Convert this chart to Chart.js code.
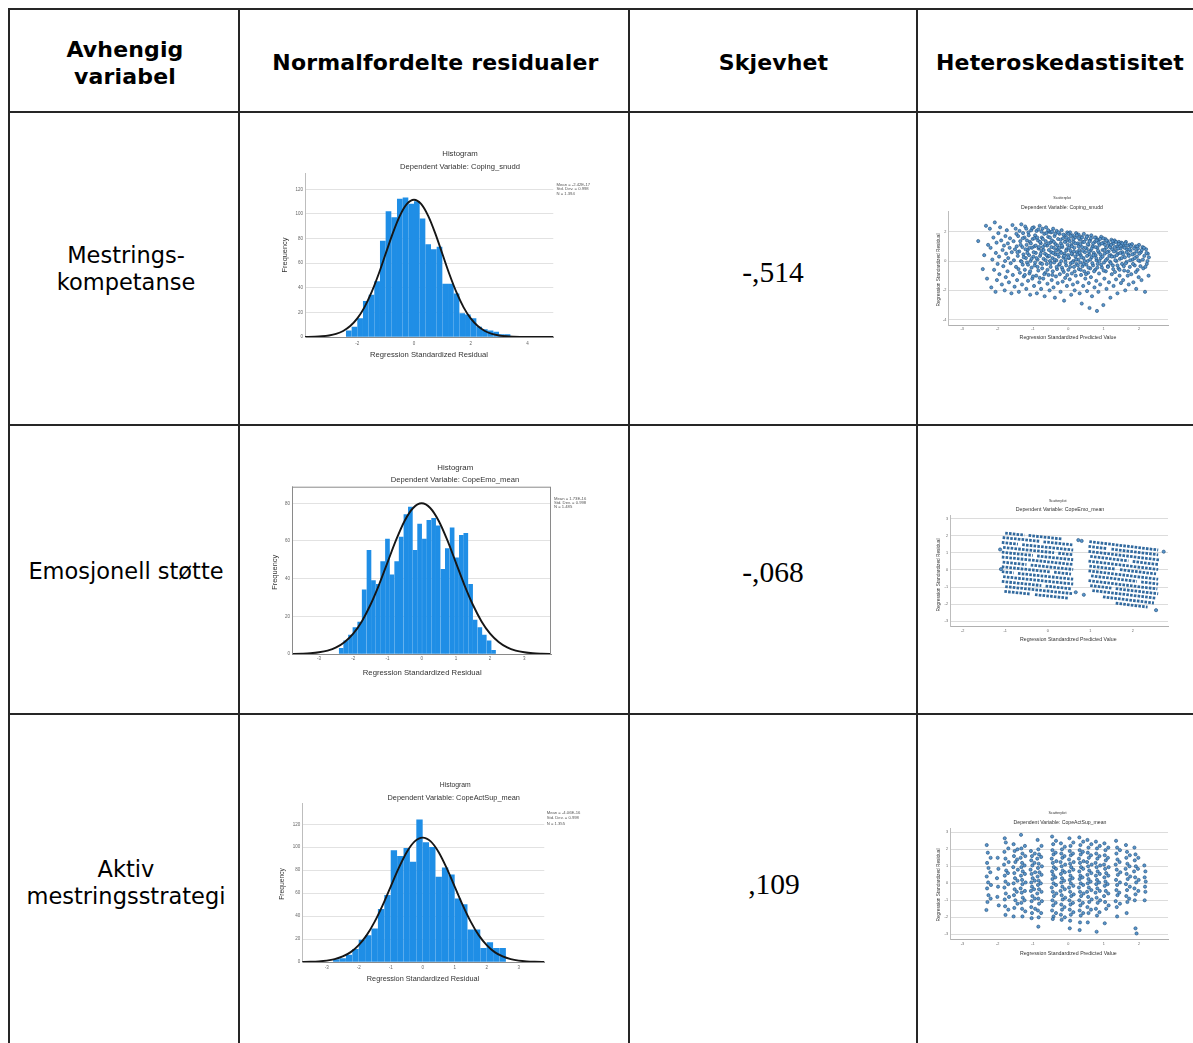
<!DOCTYPE html>
<html>
<head>
<meta charset="utf-8">
<script src="https://cdn.jsdelivr.net/npm/chart.js@4.4.1/dist/chart.umd.min.js"></script>
<style>
  html, body { margin: 0; padding: 0; background: #fff; }
  #page { position: relative; width: 1193px; height: 1043px; overflow: hidden; background: #fff; }
  .ln { position: absolute; background: #262626; }
  .txt { position: absolute; width: 400px; text-align: center; white-space: nowrap; color: #000; }
  .hd { font-family: "DejaVu Sans"; font-weight: bold; font-size: 22px; line-height: 27px; letter-spacing: 0.15px; }
  .bd { font-family: "DejaVu Sans"; font-size: 22.5px; line-height: 27px; }
  .num { font-family: "Liberation Serif"; font-size: 29.5px; line-height: 34px; }
  canvas { position: absolute; }
</style>
</head>
<body>
<div id="page">
  <!-- table rules -->
  <div class="ln" style="left:8px;top:8px;width:1185px;height:2px"></div>
  <div class="ln" style="left:8px;top:111px;width:1185px;height:2px"></div>
  <div class="ln" style="left:8px;top:424px;width:1185px;height:2px"></div>
  <div class="ln" style="left:8px;top:713px;width:1185px;height:2px"></div>
  <div class="ln" style="left:8px;top:8px;width:2px;height:1035px"></div>
  <div class="ln" style="left:238px;top:8px;width:2px;height:1035px"></div>
  <div class="ln" style="left:628px;top:8px;width:2px;height:1035px"></div>
  <div class="ln" style="left:916px;top:8px;width:2px;height:1035px"></div>

  <!-- header -->
  <div class="txt hd" style="left:-75px;top:36px">Avhengig<br>variabel</div>
  <div class="txt hd" style="left:235.5px;top:49px">Normalfordelte residualer</div>
  <div class="txt hd" style="left:573.5px;top:49px">Skjevhet</div>
  <div class="txt hd" style="left:860px;top:49px">Heteroskedastisitet</div>

  <!-- first column -->
  <div class="txt bd" style="left:-74px;top:242px">Mestrings-<br>kompetanse</div>
  <div class="txt bd" style="left:-74px;top:558px">Emosjonell støtte</div>
  <div class="txt bd" style="left:-74px;top:856px">Aktiv<br>mestringsstrategi</div>

  <!-- skewness -->
  <div class="txt num" style="left:573px;top:255px">-,514</div>
  <div class="txt num" style="left:573px;top:555px">-,068</div>
  <div class="txt num" style="left:574px;top:867px">,109</div>

  <canvas id="hist1"></canvas>
  <canvas id="hist2"></canvas>
  <canvas id="hist3"></canvas>
  <canvas id="scat1"></canvas>
  <canvas id="scat2"></canvas>
  <canvas id="scat3"></canvas>
</div>

<script>
// ---- histogram data (bin centres, counts, fitted normal curve) ----
const hist1Bins = [-2.3,-2.1,-1.9,-1.7,-1.5,-1.3,-1.1,-0.9,-0.7,-0.5,-0.3,-0.1,0.1,0.3,0.5,0.7,0.9,1.1,1.3,1.5,1.7,1.9,2.1,2.3,2.5,2.7,2.9,3.1,3.3];
const hist1Counts = [5,8,15,29,34,45,78,102,97,112,113,108,110,96,75,71,73,43,43,35,19,18,15,8,6,5,4,2,2];

const hist2Bins = [-2.35,-2.22,-2.08,-1.95,-1.81,-1.68,-1.54,-1.41,-1.27,-1.14,-1.00,-0.87,-0.73,-0.60,-0.46,-0.33,-0.19,-0.06,0.08,0.21,0.35,0.48,0.62,0.75,0.89,1.02,1.16,1.29,1.43,1.56,1.70,1.83,1.97,2.10];
const hist2Counts = [3,7,10,14,17,34,55,39,37,49,61,42,49,62,74,78,55,69,61,71,72,68,45,56,67,51,63,64,37,18,14,10,7,2];

const hist3Bins = [-2.7,-2.5,-2.3,-2.1,-1.9,-1.7,-1.5,-1.3,-1.1,-0.9,-0.7,-0.5,-0.3,-0.1,0.1,0.3,0.5,0.7,0.9,1.1,1.3,1.5,1.7,1.9,2.1,2.3,2.5];
const hist3Counts = [2,3,6,11,19,23,29,46,58,97,92,99,87,124,104,100,74,82,76,55,50,28,28,12,17,12,12];

const curveX = [-4,-3.75,-3.5,-3.25,-3,-2.75,-2.5,-2.25,-2,-1.75,-1.5,-1.25,-1,-0.75,-0.5,-0.25,0,0.25,0.5,0.75,1,1.25,1.5,1.75,2,2.25,2.5,2.75,3,3.25,3.5,3.75,4,4.25,4.5,4.75,5];
const hist1Curve = [0.03,0.1,0.25,0.57,1.24,2.54,4.9,8.88,15.1,24.1,36.2,51.0,67.6,84.2,98.4,108.1,111.5,108.1,98.4,84.2,67.6,51.0,36.2,24.1,15.1,8.88,4.9,2.54,1.24,0.57,0.25,0.1,0.03,0,0,0,0];
const hist2Curve = [0.03,0.07,0.18,0.4,0.9,1.8,3.5,6.4,10.8,17.3,26.0,36.6,48.5,60.4,70.6,77.5,80,77.5,70.6,60.4,48.5,36.6,26.0,17.3,10.8,6.4,3.5,1.8,0.9,0.4,0.18,0.07,0.03,0,0,0,0];
const hist3Curve = [0.03,0.1,0.24,0.55,1.2,2.5,4.8,8.6,14.7,23.4,35.2,49.6,65.7,81.8,95.7,105.1,108.4,105.1,95.7,81.8,65.7,49.6,35.2,23.4,14.7,8.6,4.8,2.5,1.2,0.55,0.24,0.1,0.03,0,0,0,0];

const hist1XTicks = [-2,0,2,4];
const hist23XTicks = [-3,-2,-1,0,1,2,3];
const hist13YTicks = [0,20,40,60,80,100,120];
const hist2YTicks = [0,20,40,60,80];

const hist1Stats = ['Mean = -2.42E-17', 'Std. Dev. = 0.998', 'N = 1.394'];
const hist2Stats = ['Mean = 1.73E-16', 'Std. Dev. = 0.998', 'N = 1.485'];
const hist3Stats = ['Mean = -4.06E-16', 'Std. Dev. = 0.998', 'N = 1.355'];

// ---- scatterplot data (standardized predicted, standardized residual) ----
const scatter1Points = [
  [-2.55,1.36],[-2.42,-0.55],[-2.38,0.4],[-2.33,2.4],[-2.3,-1.2],[-2.27,1.1],
  [-2.22,2.2],[-2.2,0.9],[-2.18,-1.8],[-2.15,0.1],[-2.12,1.6],[-2.1,-0.6],[-2.08,2.63],[-2.06,-2.1],[-2.05,0.55],[-2.03,1.25],[-2.02,-1.3],[-2.0,-0.2],
  [-1.98,1.9],[-1.96,0.3],[-1.95,-0.9],[-1.93,2.3],[-1.9,1.4],[-1.88,-1.6],[-1.86,0.75],[-1.84,-0.35],[-1.82,1.05],[-1.8,-2.0],[-1.79,0.0],[-1.78,1.7],[-1.77,-1.1],[-1.76,0.5],
  [-1.74,2.1],[-1.72,-0.7],[-1.71,1.2],[-1.7,0.2],[-1.68,-1.45],[-1.66,0.9],[-1.65,1.55],[-1.63,-0.15],[-1.61,-2.2],[-1.6,0.6],[-1.58,2.45],[-1.57,-0.95],[-1.55,1.35],[-1.54,0.05],[-1.52,-1.75],[-1.51,0.8],
  [-1.49,2.2],[-1.48,-0.4],[-1.46,1.0],[-1.45,-1.3],[-1.43,0.35],[-1.42,1.7],[-1.4,-2.1],[-1.39,0.65],[-1.37,-0.8],[-1.36,1.35],[-1.34,0.0],[-1.33,2.5],[-1.31,-1.6],[-1.3,0.95],[-1.29,-0.25],[-1.28,1.9],[-1.27,0.45],[-1.26,-1.05],
  [-1.24,1.6],[-1.23,-0.6],[-1.22,2.35],[-1.2,0.2],[-1.19,-1.9],[-1.18,1.1],[-1.17,-0.1],[-1.15,0.75],[-1.14,-1.35],[-1.13,1.95],[-1.11,0.4],[-1.1,-0.85],[-1.09,1.3],[-1.08,-2.3],[-1.07,0.0],[-1.05,2.1],[-1.04,-0.45],[-1.03,0.9],[-1.02,-1.2],[-1.01,1.5],
  [-0.99,0.3],[-0.98,2.3],[-0.97,-1.7],[-0.96,1.0],[-0.95,-0.3],[-0.94,1.75],[-0.92,0.55],[-0.91,-1.0],[-0.9,2.05],[-0.89,-2.2],[-0.87,0.1],[-0.86,1.4],[-0.85,-0.65],[-0.84,0.85],[-0.82,-1.45],[-0.81,2.4],[-0.8,0.35],[-0.79,-0.15],[-0.78,1.2],[-0.77,-1.9],[-0.76,0.7],[-0.75,1.6],
  [-0.74,-0.5],[-0.73,2.2],[-0.72,0.95],[-0.71,-1.2],[-0.7,0.15],[-0.68,1.85],[-0.67,-2.4],[-0.66,0.5],[-0.65,-0.8],[-0.64,1.35],[-0.63,2.3],[-0.61,-0.2],[-0.6,1.05],[-0.59,-1.55],[-0.58,0.3],[-0.57,1.65],[-0.56,-0.95],[-0.55,0.75],[-0.54,2.0],[-0.53,-2.0],[-0.52,0.0],[-0.51,1.25],
  [-0.5,-0.4],[-0.49,1.95],[-0.48,0.6],[-0.47,-1.3],[-0.46,1.4],[-0.45,0.2],[-0.44,-0.7],[-0.43,2.2],[-0.42,-1.8],[-0.41,0.9],[-0.4,-0.1],[-0.39,1.7],[-0.38,-2.5],[-0.37,0.45],[-0.36,1.15],[-0.35,-1.05],[-0.34,0.05],[-0.33,2.05],[-0.32,-0.55],[-0.31,0.8],[-0.3,-1.5],[-0.29,1.5],[-0.27,0.3],[-0.26,-0.25],
  [-0.25,1.85],[-0.24,-0.9],[-0.23,0.65],[-0.22,-2.1],[-0.21,1.2],[-0.2,0.0],[-0.19,2.1],[-0.18,-0.45],[-0.17,0.95],[-0.16,-1.4],[-0.15,1.55],[-0.14,0.25],[-0.13,-0.75],[-0.12,-2.7],[-0.11,0.5],[-0.1,1.75],[-0.09,-1.15],[-0.08,0.1],[-0.07,1.35],[-0.06,-0.3],[-0.05,0.8],[-0.04,-1.7],[-0.03,1.95],[-0.01,0.4],
  [0.0,-0.6],[0.01,1.5],[0.02,0.2],[0.04,-1.25],[0.05,1.95],[0.06,0.7],[0.07,-0.15],[0.08,-2.3],[0.09,1.1],[0.1,-0.85],[0.11,0.45],[0.12,1.75],[0.13,-1.6],[0.14,0.0],[0.15,1.3],[0.16,-0.4],[0.17,0.9],[0.18,-2.0],[0.19,1.6],[0.2,0.3],[0.21,-1.0],[0.22,1.9],[0.23,-0.2],[0.24,0.6],
  [0.26,-1.45],[0.27,1.2],[0.28,0.1],[0.29,1.8],[0.3,-0.55],[0.31,0.75],[0.32,-2.2],[0.33,1.45],[0.34,-0.1],[0.35,0.4],[0.36,-0.95],[0.37,1.65],[0.38,-2.9],[0.39,0.95],[0.4,-0.35],[0.41,1.3],[0.42,-1.7],[0.43,0.2],[0.44,1.85],[0.45,-0.7],[0.47,0.6],[0.48,-1.2],
  [0.5,1.5],[0.51,-0.25],[0.52,0.85],[0.53,-2.05],[0.54,1.7],[0.55,0.0],[0.56,-0.8],[0.57,1.1],[0.58,-1.5],[0.59,0.45],[0.6,-3.2],[0.61,1.4],[0.62,-0.5],[0.63,0.7],[0.64,-1.1],[0.65,1.75],[0.66,0.25],[0.67,-2.4],[0.69,1.0],[0.7,-0.3],[0.72,0.55],[0.74,-1.8],
  [0.75,1.3],[0.76,-0.6],[0.77,0.4],[0.78,1.6],[0.79,-1.35],[0.8,0.05],[0.81,-3.4],[0.82,0.9],[0.83,-0.2],[0.84,1.45],[0.85,-2.1],[0.86,0.6],[0.87,-0.85],[0.88,1.1],[0.9,-1.6],[0.92,0.2],[0.93,1.65],[0.95,-0.45],[0.97,0.75],[0.99,-3.0],
  [1.0,1.25],[1.01,-0.1],[1.02,-1.2],[1.03,0.5],[1.05,1.5],[1.06,-0.7],[1.07,0.9],[1.08,-1.9],[1.1,0.15],[1.11,1.35],[1.12,-0.35],[1.14,0.65],[1.15,-1.45],[1.16,1.05],[1.18,-0.05],[1.19,-2.5],[1.2,0.4],[1.22,1.45],[1.23,-0.9],[1.24,0.8],
  [1.26,-0.3],[1.27,1.2],[1.28,-1.7],[1.3,0.3],[1.31,1.4],[1.32,-0.75],[1.34,0.7],[1.35,-1.25],[1.36,0.0],[1.38,1.0],[1.39,-2.2],[1.4,0.5],[1.42,-0.5],[1.43,1.3],[1.45,-1.0],[1.46,0.15],[1.48,0.85],[1.49,-1.5],
  [1.5,1.25],[1.52,-0.2],[1.53,0.6],[1.55,-1.3],[1.56,1.0],[1.58,-0.65],[1.6,0.25],[1.61,-2.0],[1.63,1.3],[1.65,-0.05],[1.66,0.8],[1.68,-1.0],[1.7,0.45],[1.71,-1.6],[1.73,1.1],[1.74,-0.4],
  [1.76,0.7],[1.78,-0.9],[1.8,1.15],[1.82,0.1],[1.84,-1.45],[1.86,0.5],[1.88,-0.3],[1.9,1.0],[1.92,-1.9],[1.94,0.3],[1.96,-0.6],[1.97,0.85],[1.99,-1.1],[2.0,1.1],
  [2.02,0.0],[2.05,0.6],[2.07,-1.3],[2.1,0.95],[2.12,-0.5],[2.15,0.35],[2.17,-2.1],[2.2,0.8],[2.22,-0.2],[2.25,0.5],[2.27,-1.0],[2.28,0.25]
];
// the dense core of the Coping_snudd cloud
const scatter1CorePoints = [
  [-1.47,1.85],[-1.44,0.6],[-1.41,-0.55],[-1.38,2.05],[-1.35,1.1],[-1.32,-0.05],[-1.29,1.55],[-1.26,0.25],[-1.23,-0.95],[-1.21,0.8],
  [-1.19,2.2],[-1.17,1.4],[-1.16,0.55],[-1.14,-0.25],[-1.12,1.75],[-1.1,0.9],[-1.08,-0.7],[-1.06,1.2],[-1.04,0.15],[-1.02,2.25],[-1.0,-1.05],[-0.98,0.6],[-0.96,1.55],[-0.94,-0.1],[-0.92,1.05],
  [-0.9,0.2],[-0.88,1.6],[-0.87,-0.4],[-0.85,2.15],[-0.83,0.95],[-0.81,-1.15],[-0.8,1.3],[-0.78,0.5],[-0.76,2.0],[-0.74,-0.2],[-0.72,1.5],[-0.7,0.75],[-0.68,-0.9],[-0.66,1.1],[-0.64,0.05],[-0.62,1.9],[-0.61,0.4],
  [-0.59,-0.6],[-0.57,2.1],[-0.56,1.2],[-0.54,0.35],[-0.52,1.6],[-0.5,-0.15],[-0.48,0.95],[-0.46,2.0],[-0.45,-0.95],[-0.43,0.55],[-0.41,1.3],[-0.39,0.1],[-0.37,1.85],[-0.35,0.7],[-0.33,-0.4],[-0.31,1.05],[-0.3,0.45],
  [-0.28,1.95],[-0.26,0.9],[-0.24,-0.2],[-0.22,1.45],[-0.2,0.55],[-0.18,1.05],[-0.16,-0.6],[-0.14,1.8],[-0.12,0.35],[-0.1,1.3],[-0.08,-0.1],[-0.06,0.7],[-0.05,1.6],[-0.03,-0.95],[-0.02,1.1],[0.0,0.25],[0.0,1.85],
  [0.02,0.9],[0.04,1.35],[0.05,-0.4],[0.07,1.7],[0.09,0.5],[0.1,1.0],[0.12,-0.1],[0.14,1.5],[0.16,0.65],[0.18,-0.7],[0.2,1.2],[0.22,0.1],[0.24,1.75],[0.26,0.45],[0.27,-0.3],[0.29,1.0],[0.3,1.55],
  [0.32,0.55],[0.34,1.15],[0.35,-0.6],[0.37,0.25],[0.39,1.6],[0.41,0.7],[0.43,-0.2],[0.45,1.3],[0.46,0.0],[0.48,0.9],[0.5,-0.9],[0.52,1.65],[0.53,0.35],[0.55,1.15],[0.57,-0.45],[0.58,0.65],[0.6,1.35],
  [0.62,0.1],[0.64,1.55],[0.66,0.85],[0.68,-0.15],[0.7,1.2],[0.71,0.4],[0.73,-0.7],[0.75,1.6],[0.77,0.95],[0.79,0.2],[0.8,1.4],[0.82,-0.45],[0.84,0.7],[0.86,1.25],[0.88,0.0],[0.9,1.5],
  [0.91,0.45],[0.93,-0.25],[0.95,1.2],[0.97,0.3],[0.99,1.55],[1.0,-0.65],[1.02,0.75],[1.04,1.1],[1.06,0.05],[1.08,1.4],[1.1,0.6],[1.12,-0.4],[1.14,1.2],[1.16,0.35],[1.18,0.95],[1.2,-0.15],
  [1.21,1.1],[1.23,0.3],[1.25,1.35],[1.27,-0.55],[1.29,0.65],[1.31,0.95],[1.33,0.05],[1.35,1.3],[1.37,0.4],[1.39,-0.3],[1.41,0.85],[1.43,1.15],[1.45,-0.6],[1.47,0.55],[1.49,1.05],
  [1.51,0.2],[1.53,1.2],[1.55,0.45],[1.57,-0.35],[1.59,0.9],[1.61,1.2],[1.63,-0.15],[1.65,0.6],[1.67,1.05],[1.69,-0.7],[1.71,0.35],[1.73,0.8],[1.75,0.05],[1.77,1.0],
  [1.81,0.45],[1.83,-0.2],[1.86,0.85],[1.88,0.2],[1.91,-0.75],[1.93,0.65],[1.95,1.0],[1.98,0.05],[2.01,0.5],[2.04,-0.35],[2.08,0.75],[2.11,0.1],[2.14,0.9],[2.18,-0.4],[2.21,0.55],[2.24,0.0]
];

// CopeEmo: residuals fall on sloping rows; each row run is [x0, y0, x1, y1]
const scatter2Rows = [
  [-1.0,2.16,-0.55,2.04],[-0.45,2.02,0.35,1.81],
  [-1.06,1.90,-0.2,1.68],[-0.1,1.65,0.58,1.47],
  [-1.08,1.61,-0.7,1.51],[-0.6,1.48,0.6,1.17],
  [-1.05,1.32,0.15,1.01],[0.25,0.98,0.6,0.89],
  [-1.08,1.04,-0.35,0.85],[-0.25,0.82,0.6,0.60],
  [-1.08,0.76,0.6,0.32],
  [-1.06,0.46,-0.5,0.32],[-0.4,0.29,0.6,0.03],
  [-1.08,0.19,0.05,-0.11],[0.15,-0.13,0.55,-0.24],
  [-1.08,-0.10,-0.8,-0.17],[-0.7,-0.20,0.6,-0.54],
  [-1.05,-0.39,0.6,-0.82],
  [-1.08,-0.67,-0.15,-0.91],[-0.05,-0.94,0.55,-1.10],
  [-1.0,-0.97,0.6,-1.39],
  [-1.02,-1.25,-0.4,-1.41],[-0.3,-1.44,0.5,-1.65],
  [0.98,1.66,2.6,1.17],
  [0.96,1.38,1.4,1.25],[1.5,1.22,2.6,0.89],
  [0.96,1.09,2.62,0.59],
  [1.0,0.80,1.9,0.53],[2.0,0.50,2.6,0.32],
  [0.96,0.52,2.6,0.03],
  [0.98,0.23,1.6,0.05],[1.7,0.02,2.55,-0.23],
  [0.96,-0.05,2.6,-0.54],
  [1.02,-0.34,2.1,-0.67],[2.2,-0.70,2.6,-0.82],
  [0.96,-0.62,2.58,-1.11],
  [1.0,-0.91,1.5,-1.06],[1.6,-1.09,2.6,-1.39],
  [1.05,-1.20,2.55,-1.65],
  [1.3,-1.57,2.5,-1.93],
  [1.6,-1.94,2.35,-2.17]
];
const scatter2Points = [[0.8,1.7],[0.72,1.75],[2.73,1.07],[0.66,-1.3],[0.85,-1.45],[2.55,-2.35],[-1.12,1.2],[-1.1,0.05]];

const scatter3Points = [
  [-2.31,2.25],[-2.28,1.8],[-2.3,1.2],[-2.26,0.9],[-2.31,0.4],[-2.27,0.05],[-2.3,-0.3],[-2.26,-0.7],[-2.29,-1.1],[-2.32,-1.57],
  [-2.0,1.5],[-1.98,0.85],[-2.02,0.3],[-1.99,-0.2],[-2.01,-0.8],[-1.97,-1.3],
  [-1.8,2.65],[-1.77,2.4],[-1.81,1.85],[-1.78,1.45],[-1.82,1.1],[-1.76,0.75],[-1.8,0.45],[-1.78,0.1],[-1.81,-0.25],[-1.77,-0.6],[-1.8,-0.95],[-1.79,-1.35],[-1.78,-1.86],
  [-1.55,2.3],[-1.52,1.9],[-1.54,1.6],[-1.5,1.25],[-1.56,0.95],[-1.53,0.6],[-1.51,0.3],[-1.55,0.0],[-1.52,-0.35],[-1.54,-0.7],[-1.5,-1.0],[-1.53,-1.45],[-1.55,-1.95],
  [-1.34,2.85],[-1.33,2.05],[-1.3,1.75],[-1.35,1.5],[-1.31,1.2],[-1.33,0.95],[-1.29,0.7],[-1.34,0.45],[-1.31,0.2],[-1.3,-0.05],[-1.35,-0.3],[-1.32,-0.55],[-1.29,-0.85],[-1.33,-1.15],[-1.31,-1.5],[-1.3,-1.95],
  [-1.06,1.9],[-1.03,1.6],[-1.05,1.35],[-1.02,1.05],[-1.07,0.8],[-1.04,0.55],[-1.01,0.3],[-1.05,0.05],[-1.03,-0.2],[-1.06,-0.45],[-1.02,-0.75],[-1.04,-1.05],[-1.05,-1.4],[-1.03,-1.75],[-1.04,-2.05],
  [-0.87,2.55],[-0.85,2.0],[-0.83,1.7],[-0.88,1.45],[-0.84,1.15],[-0.86,0.9],[-0.82,0.65],[-0.87,0.4],[-0.84,0.15],[-0.86,-0.1],[-0.83,-0.35],[-0.88,-0.6],[-0.85,-0.9],[-0.83,-1.2],[-0.86,-1.6],[-0.84,-2.0],[-0.85,-2.55],
  [-0.46,2.75],[-0.43,2.3],[-0.45,1.95],[-0.42,1.7],[-0.47,1.45],[-0.44,1.2],[-0.41,0.95],[-0.46,0.7],[-0.43,0.5],[-0.45,0.25],[-0.42,0.0],[-0.47,-0.25],[-0.44,-0.5],[-0.41,-0.75],[-0.45,-1.0],[-0.43,-1.3],[-0.46,-1.6],[-0.42,-1.95],[-0.44,-2.1],
  [-0.21,2.35],[-0.18,2.0],[-0.2,1.75],[-0.17,1.5],[-0.22,1.25],[-0.19,1.0],[-0.16,0.75],[-0.21,0.55],[-0.18,0.3],[-0.2,0.05],[-0.17,-0.2],[-0.22,-0.45],[-0.19,-0.7],[-0.16,-0.95],[-0.2,-1.25],[-0.18,-1.55],[-0.21,-1.85],[-0.19,-2.15],
  [0.03,2.65],[0.06,2.2],[0.04,1.9],[0.07,1.65],[0.02,1.4],[0.05,1.15],[0.08,0.95],[0.03,0.7],[0.06,0.45],[0.04,0.2],[0.07,0.0],[0.02,-0.25],[0.05,-0.5],[0.08,-0.75],[0.03,-1.0],[0.06,-1.25],[0.04,-1.55],[0.07,-1.85],[0.05,-2.2],[0.04,-2.65],
  [0.31,2.7],[0.34,2.25],[0.32,1.95],[0.35,1.7],[0.3,1.45],[0.33,1.2],[0.36,0.95],[0.31,0.7],[0.34,0.45],[0.32,0.25],[0.35,0.0],[0.3,-0.25],[0.33,-0.5],[0.36,-0.75],[0.31,-1.0],[0.34,-1.3],[0.32,-1.6],[0.35,-1.9],[0.33,-2.3],[0.32,-2.75],
  [0.54,2.55],[0.57,2.1],[0.55,1.8],[0.58,1.5],[0.53,1.25],[0.56,1.0],[0.59,0.75],[0.54,0.5],[0.57,0.25],[0.55,0.0],[0.58,-0.25],[0.53,-0.5],[0.56,-0.8],[0.59,-1.1],[0.54,-1.4],[0.57,-1.75],[0.55,-2.3],
  [0.78,2.45],[0.81,2.05],[0.79,1.75],[0.82,1.45],[0.77,1.2],[0.8,0.95],[0.83,0.7],[0.78,0.45],[0.81,0.2],[0.79,-0.05],[0.82,-0.3],[0.77,-0.55],[0.8,-0.85],[0.83,-1.15],[0.78,-1.5],[0.81,-1.9],[0.8,-2.85],
  [1.02,2.35],[1.05,1.95],[1.03,1.65],[1.06,1.35],[1.01,1.1],[1.04,0.85],[1.07,0.6],[1.02,0.35],[1.05,0.1],[1.03,-0.15],[1.06,-0.45],[1.01,-0.75],[1.04,-1.1],[1.07,-1.5],[1.03,-2.35],
  [1.35,2.5],[1.38,2.1],[1.36,1.75],[1.39,1.4],[1.34,1.1],[1.37,0.8],[1.4,0.5],[1.35,0.2],[1.38,-0.1],[1.36,-0.4],[1.39,-0.7],[1.34,-1.05],[1.37,-1.4],[1.38,-1.95],
  [1.63,2.25],[1.66,1.85],[1.64,1.5],[1.67,1.15],[1.62,0.85],[1.65,0.55],[1.68,0.25],[1.63,-0.05],[1.66,-0.4],[1.64,-0.75],[1.67,-1.1],[1.65,-1.75],
  [1.87,2.1],[1.9,1.7],[1.88,1.35],[1.91,1.0],[1.86,0.7],[1.89,0.35],[1.92,0.05],[1.87,-0.3],[1.9,-0.65],[1.88,-1.0],[1.9,-2.65],[1.93,-2.95],
  [2.15,1.05],[2.18,0.7],[2.16,0.35],[2.19,0.1],[2.17,-0.2],[2.18,-0.5],[2.16,-1.0]
];
// second, right-hand strand of each CopeActSup column
const scatter3StrandPoints = [
  [-2.2,1.5],[-2.21,0.65],[-2.19,-0.1],[-2.2,-0.9],
  [-1.7,2.05],[-1.69,1.25],[-1.71,0.6],[-1.7,-0.05],[-1.68,-0.8],[-1.7,-1.55],
  [-1.44,2.0],[-1.45,1.4],[-1.43,0.8],[-1.44,0.15],[-1.46,-0.5],[-1.44,-1.2],
  [-1.23,2.2],[-1.22,1.6],[-1.24,1.05],[-1.23,0.55],[-1.21,0.05],[-1.23,-0.45],[-1.24,-1.0],[-1.22,-1.65],
  [-0.95,1.75],[-0.96,1.2],[-0.94,0.65],[-0.95,0.15],[-0.97,-0.35],[-0.95,-0.9],[-0.94,-1.5],
  [-0.76,2.2],[-0.77,1.55],[-0.75,1.0],[-0.76,0.5],[-0.78,0.0],[-0.76,-0.5],[-0.75,-1.05],[-0.77,-1.75],
  [-0.35,2.5],[-0.36,1.8],[-0.34,1.3],[-0.35,0.85],[-0.37,0.35],[-0.35,-0.1],[-0.34,-0.6],[-0.36,-1.15],[-0.35,-1.75],
  [-0.1,2.15],[-0.11,1.6],[-0.09,1.1],[-0.1,0.65],[-0.12,0.15],[-0.1,-0.35],[-0.09,-0.85],[-0.11,-1.4],[-0.1,-2.0],
  [0.14,2.4],[0.13,1.75],[0.15,1.25],[0.14,0.8],[0.12,0.3],[0.14,-0.15],[0.15,-0.65],[0.13,-1.15],[0.14,-1.7],
  [0.42,2.45],[0.41,1.85],[0.43,1.3],[0.42,0.85],[0.4,0.35],[0.42,-0.1],[0.43,-0.6],[0.41,-1.15],[0.42,-1.75],
  [0.65,2.3],[0.64,1.65],[0.66,1.1],[0.65,0.6],[0.63,0.1],[0.65,-0.4],[0.66,-0.95],[0.64,-1.55],
  [0.89,2.2],[0.88,1.6],[0.9,1.05],[0.89,0.55],[0.87,0.05],[0.89,-0.45],[0.9,-1.0],[0.88,-1.7],
  [1.13,2.1],[1.12,1.5],[1.14,0.95],[1.13,0.45],[1.11,-0.05],[1.13,-0.6],[1.14,-1.3],
  [1.46,1.95],[1.45,1.25],[1.47,0.65],[1.46,0.05],[1.44,-0.55],[1.46,-1.2],
  [1.74,1.65],[1.73,1.0],[1.75,0.4],[1.74,-0.2],[1.72,-0.9],
  [1.98,1.5],[1.97,0.85],[1.99,0.2],[1.98,-0.45]
];

const scatter13XTicks = [-3,-2,-1,0,1,2];
const scatter2XTicks = [-2,-1,0,1,2];
const scatter1YTicks = [-4,-2,0,2];
const scatter23YTicks = [-3,-2,-1,0,1,2,3];

// ---- helpers ----
const BAR_BLUE = '#1f8ee6';
const DOT_FILL = '#5a96cc';
const DOT_EDGE = '#1d4b78';
const FONT = '"Liberation Sans", Arial, sans-serif';

// draws frame, x tick labels, titles / axis titles / stats text (page coordinates)
const panelText = {
  id: 'panelText',
  afterDraw(chart, args, opts) {
    const ctx = chart.ctx;
    const a = chart.chartArea;
    if (opts.frame) {
      ctx.save();
      ctx.strokeStyle = '#8a8a8a';
      ctx.lineWidth = 1;
      ctx.strokeRect(a.left + 0.5, a.top + 0.5, a.right - a.left - 1, a.bottom - a.top);
      ctx.restore();
    }
    if (opts.xTicks) {
      const xs = chart.scales.x;
      ctx.save();
      ctx.font = opts.tickSize + 'px ' + FONT;
      ctx.fillStyle = '#666';
      ctx.textAlign = 'center';
      ctx.textBaseline = 'middle';
      opts.xTicks.forEach(v => {
        ctx.fillText(String(v), xs.getPixelForValue(v), a.bottom + opts.xDy);
      });
      ctx.restore();
    }
    (opts.items || []).forEach(t => {
      ctx.save();
      let size = t.size || 8;
      ctx.font = size + 'px ' + FONT;
      if (t.w) {
        size = size * t.w / ctx.measureText(t.text).width;
        ctx.font = size + 'px ' + FONT;
      }
      ctx.fillStyle = t.color || '#333';
      ctx.textAlign = t.align || 'center';
      ctx.textBaseline = 'middle';
      ctx.translate(t.x - opts.ox, t.y - opts.oy);
      if (t.rot) ctx.rotate(-Math.PI / 2);
      ctx.fillText(t.text, 0, 0);
      ctx.restore();
    });
  }
};

function placeCanvas(id, box) {
  const c = document.getElementById(id);
  c.width = box.w;
  c.height = box.h;
  c.style.left = box.x + 'px';
  c.style.top = box.y + 'px';
  c.style.width = box.w + 'px';
  c.style.height = box.h + 'px';
  return c;
}

const Y_W = 12, X_H = 10;
function paddingFor(box, area) {
  return {
    left: area.l - box.x - Y_W,
    top: area.t - box.y,
    right: box.x + box.w - area.r,
    bottom: box.y + box.h - area.b - X_H
  };
}

function axes(xr, yr, yTicks, tickSize, gridColor, borderColor) {
  return {
    x: {
      type: 'linear', min: xr[0], max: xr[1], offset: false,
      grid: { display: false, offset: false },
      border: { display: true, color: borderColor, width: 1 },
      ticks: { display: false },
      afterFit: s => { s.height = X_H; s.paddingLeft = 0; s.paddingRight = 0; }
    },
    y: {
      type: 'linear', min: yr[0], max: yr[1],
      grid: { color: gridColor, lineWidth: 1, drawTicks: false },
      border: { display: true, color: '#bdbdbd', width: 1 },
      ticks: { font: { size: tickSize, family: FONT }, color: '#666', padding: 2, autoSkip: false },
      afterBuildTicks: s => { s.ticks = yTicks.map(v => ({ value: v })); },
      afterFit: s => { s.width = Y_W; s.paddingTop = 0; s.paddingBottom = 0; }
    }
  };
}

function histogram(id, box, area, xr, yr, bins, counts, curve, xTicks, yTicks, barPx, xDy, texts, frame) {
  const canvas = placeCanvas(id, box);
  new Chart(canvas.getContext('2d'), {
    type: 'bar',
    data: {
      datasets: [
        {
          type: 'bar', order: 2,
          data: bins.map((b, i) => ({ x: b, y: counts[i] })),
          backgroundColor: BAR_BLUE, borderWidth: 0, barThickness: barPx
        },
        {
          type: 'line', order: 1,
          data: curveX.map((x, i) => ({ x: x, y: curve[i] })),
          borderColor: '#161616', borderWidth: 1.9, pointRadius: 0,
          cubicInterpolationMode: 'monotone', fill: false
        }
      ]
    },
    options: {
      responsive: false, animation: false, devicePixelRatio: 1,
      layout: { padding: paddingFor(box, area) },
      plugins: {
        legend: { display: false }, tooltip: { enabled: false },
        panelText: { ox: box.x, oy: box.y, items: texts, frame: frame, xTicks: xTicks, xDy: xDy, tickSize: 4.5 }
      },
      scales: axes(xr, yr, yTicks, 4.5, '#e2e2e2', '#8c8c8c')
    },
    plugins: [panelText]
  });
}

function scatterplot(id, box, area, xr, yr, xTicks, yTicks, points, rows, xDy, texts) {
  const canvas = placeCanvas(id, box);
  const datasets = [{
    data: points.map(p => ({ x: p[0], y: p[1] })),
    pointRadius: 1.6, pointBackgroundColor: DOT_FILL,
    pointBorderColor: DOT_EDGE, pointBorderWidth: 0.6
  }];
  (rows || []).forEach(r => {
    datasets.push({
      data: [{ x: r[0], y: r[1] }, { x: r[2], y: r[3] }],
      showLine: true, pointRadius: 0, borderColor: '#31699e',
      borderWidth: 2.8, borderDash: [2.6, 1.2], borderCapStyle: 'butt'
    });
  });
  new Chart(canvas.getContext('2d'), {
    type: 'scatter',
    data: { datasets: datasets },
    options: {
      responsive: false, animation: false, devicePixelRatio: 1,
      layout: { padding: paddingFor(box, area) },
      plugins: {
        legend: { display: false }, tooltip: { enabled: false },
        panelText: { ox: box.x, oy: box.y, items: texts, xTicks: xTicks, xDy: xDy, tickSize: 3.8 }
      },
      scales: axes(xr, yr, yTicks, 3.8, '#dcdcdc', '#b0b0b0')
    },
    plugins: [panelText]
  });
}

function statsLines(x, ys, lines) {
  return lines.map((s, i) => ({ text: s, x: x, y: ys[i], size: 4.2, align: 'left', color: '#555' }));
}

// ---- histograms ----
histogram('hist1', { x: 262, y: 140, w: 346, h: 226 }, { l: 305, t: 173.3, r: 553.3, b: 337 },
  [-3.845, 4.914], [0, 133], hist1Bins, hist1Counts, hist1Curve, hist1XTicks, hist13YTicks, 5.0, 6.3, [
    { text: 'Histogram', x: 460, y: 154.3, w: 35.5 },
    { text: 'Dependent Variable: Coping_snudd', x: 460, y: 167.3, w: 120 },
    { text: 'Frequency', x: 285, y: 255, w: 35, rot: true },
    { text: 'Regression Standardized Residual', x: 429, y: 355, w: 118 }
  ].concat(statsLines(556.5, [185, 189.3, 193.5], hist1Stats)), false);

histogram('hist2', { x: 255, y: 458, w: 350, h: 224 }, { l: 292, t: 486.7, r: 551, b: 654 },
  [-3.79, 3.78], [0, 88.8], hist2Bins, hist2Counts, hist2Curve, hist23XTicks, hist2YTicks, 4.0, 5.0, [
    { text: 'Histogram', x: 455.3, y: 467.7, w: 36 },
    { text: 'Dependent Variable: CopeEmo_mean', x: 455, y: 480, w: 128.5 },
    { text: 'Frequency', x: 275, y: 572.3, w: 35, rot: true },
    { text: 'Regression Standardized Residual', x: 422.2, y: 673.3, w: 119 }
  ].concat(statsLines(554, [498.7, 502.6, 507], hist2Stats)), true);

histogram('hist3', { x: 262, y: 775, w: 340, h: 215 }, { l: 302.3, t: 803.3, r: 544.3, b: 962 },
  [-3.7625, 3.8], [0, 138.3], hist3Bins, hist3Counts, hist3Curve, hist23XTicks, hist13YTicks, 5.7, 5.7, [
    { text: 'Histogram', x: 455.3, y: 785, w: 31 },
    { text: 'Dependent Variable: CopeActSup_mean', x: 453.7, y: 797.7, w: 132.5 },
    { text: 'Frequency', x: 282.3, y: 884, w: 31.7, rot: true },
    { text: 'Regression Standardized Residual', x: 423, y: 979, w: 112.7 }
  ].concat(statsLines(546.7, [813.3, 818.3, 823.5], hist3Stats)), false);

// ---- scatterplots ----
scatterplot('scat1', { x: 920, y: 188, w: 273, h: 157 }, { l: 948.3, t: 211.7, r: 1168, b: 325 },
  [-3.396, 2.82], [-4.36, 3.36], scatter13XTicks, scatter1YTicks,
  scatter1Points.concat(scatter1CorePoints), null, 4.2, [
    { text: 'Scatterplot', x: 1062, y: 198, w: 17.7 },
    { text: 'Dependent Variable: Coping_snudd', x: 1062, y: 207.7, w: 82 },
    { text: 'Regression Standardized Residual', x: 938.3, y: 270, w: 73, rot: true },
    { text: 'Regression Standardized Predicted Value', x: 1068, y: 337.7, w: 97 }
  ]);

scatterplot('scat2', { x: 920, y: 492, w: 273, h: 155 }, { l: 950, t: 515, r: 1168, b: 626.7 },
  [-2.299, 2.831], [-3.316, 3.216], scatter2XTicks, scatter23YTicks, scatter2Points, scatter2Rows, 4.3, [
    { text: 'Scatterplot', x: 1057.7, y: 500.7, w: 17.7 },
    { text: 'Dependent Variable: CopeEmo_mean', x: 1060, y: 509.3, w: 88.7 },
    { text: 'Regression Standardized Residual', x: 938.3, y: 575, w: 73, rot: true },
    { text: 'Regression Standardized Predicted Value', x: 1068.3, y: 639.3, w: 96.7 }
  ]);

scatterplot('scat3', { x: 920, y: 803, w: 273, h: 160 }, { l: 950, t: 828.3, r: 1168, b: 939.3 },
  [-3.35, 2.82], [-3.294, 3.235], scatter13XTicks, scatter23YTicks,
  scatter3Points.concat(scatter3StrandPoints), null, 4.7, [
    { text: 'Scatterplot', x: 1057.5, y: 812.7, w: 18 },
    { text: 'Dependent Variable: CopeActSup_mean', x: 1060, y: 822.7, w: 93 },
    { text: 'Regression Standardized Residual', x: 938.3, y: 885, w: 73, rot: true },
    { text: 'Regression Standardized Predicted Value', x: 1068.3, y: 953.3, w: 97 }
  ]);
</script>
</body>
</html>
